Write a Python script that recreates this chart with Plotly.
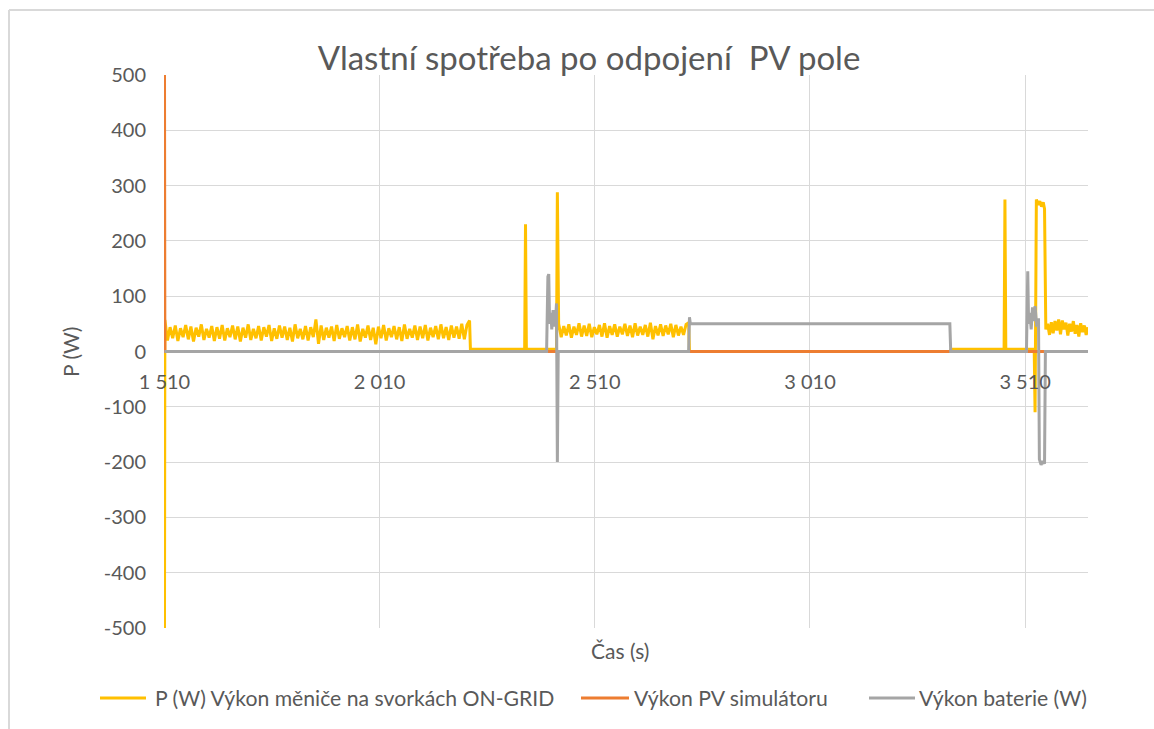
import numpy as np
import plotly.graph_objects as go

# ---------------- data ----------------
# inverter power P (W) on ON-GRID terminals, noisy segments
ongrid_a = [57, 20, 44, 24, 47, 19, 42, 26, 48, 22, 45, 18, 43, 27, 49, 21, 41, 25, 46, 19,
            44, 23, 48, 20, 42, 26, 47, 22, 45, 18, 43, 25, 49, 21, 41, 24, 46, 20, 44, 27,
            48, 19, 42, 23, 47, 25, 45, 21, 43, 18, 49, 24, 41, 22, 46, 20, 44, 26, 58, 14,
            47, 21, 43, 25, 45, 19, 48, 23, 42, 26, 46, 20, 44, 22, 49, 18, 41, 25, 47, 21,
            43, 13, 45, 24, 48, 20, 42, 26, 46, 22, 44, 19, 49, 23, 41, 25, 47, 21, 45, 24,
            48, 20, 43, 26, 46, 22, 49, 24, 44, 21, 47, 25, 45, 23, 50, 22, 48, 56]
ongrid_b = [50, 26, 46, 29, 49, 25, 45, 30, 51, 27, 47, 28, 50, 26, 44, 31, 48, 27, 51, 25,
            46, 30, 49, 27, 45, 31, 50, 28, 47, 26, 51, 29, 45, 30, 48, 27, 52, 22, 46, 29,
            49, 28, 47, 31, 50, 26, 48, 29, 45, 30, 49, 52]
ongrid_c = [40, 50, 30, 53, 33, 55, 38, 58, 31, 56, 40, 52, 29, 50, 36, 55, 32, 48, 27, 51,
            35, 47, 30, 44]
seg_a_time = (1511, 2219)
seg_b_time = (2426, 2728)
seg_c_time = (3558, 3656)

# discrete events of the ON-GRID series (time, value)
ev_start_t = [1510]
ev_start_p = [-600]
ev_mid_t = [2221, 2347, 2349, 2351, 2421, 2423]
ev_mid_p = [4, 4, 230, 4, 4, 288]
ev_late_t = [2730, 3336, 3338, 3461, 3463, 3465, 3531, 3533, 3536, 3540, 3544, 3548, 3552, 3555]
ev_late_p = [0, 0, 4, 4, 275, 4, 4, -110, 275, 265, 272, 262, 270, 258]

# PV simulator power
pv_t = [1510, 1511, 3656]
pv_p = [600, 0, 0]

# battery power
bat_t = [1510, 2398, 2401, 2403, 2405, 2408, 2410, 2413, 2416, 2419,
         2421, 2423, 2425, 2728, 2730, 2732, 3335, 3337, 3513, 3516,
         3518, 3521, 3524, 3527, 3530, 3533, 3537, 3541, 3543, 3547,
         3551, 3555, 3557, 3656]
bat_p = [0, 0, 135, 140, 50, 70, 40, 75, 45, 60,
         87, -200, 0, 0, 62, 50, 50, 0, 0, 145,
         50, 70, 40, 80, 55, 82, 45, 60, -195, -205,
         -198, -203, 0, 0]

x_tickvals = [1510, 2010, 2510, 3010, 3510]
x_ticktext = ["1 510", "2 010", "2 510", "3 010", "3 510"]
y_tickvals = [-500, -400, -300, -200, -100, 0, 100, 200, 300, 400, 500]
y_ticktext = ["-500", "-400", "-300", "-200", "-100", "0", "100", "200", "300", "400", "500"]

names = ["P (W) Výkon měniče na svorkách ON-GRID", "Výkon PV simulátoru", "Výkon baterie (W)"]
colors = ["#FFC000", "#ED7D31", "#A5A5A5"]

# ---------------- assemble ----------------
on_t = (ev_start_t
        + list(np.linspace(*seg_a_time, len(ongrid_a)))
        + ev_mid_t
        + list(np.linspace(*seg_b_time, len(ongrid_b)))
        + ev_late_t
        + list(np.linspace(*seg_c_time, len(ongrid_c))))
on_p = ev_start_p + ongrid_a + ev_mid_p + ongrid_b + ev_late_p + ongrid_c

FONT = "Lato"
TXT = "#595959"
GRID = "#D9D9D9"

fig = go.Figure()
for t, p, n, c in [(on_t, on_p, names[0], colors[0]),
                   (pv_t, pv_p, names[1], colors[1]),
                   (bat_t, bat_p, names[2], colors[2])]:
    fig.add_trace(go.Scatter(x=t, y=p, name=n, mode="lines", showlegend=False,
                             line=dict(color=c, width=3), hoverinfo="skip"))

L, R, T, B = 164, 66, 75, 101
W, H = 1154, 729
pw, ph = W - L - R, H - T - B


def px_x(px):
    return (px - L) / pw


def px_y(py):
    return (H - B - py) / ph


# legend drawn as line samples + text (Excel style long samples)
leg_line_x = [(100, 146), (581, 629), (869, 915)]
leg_text_x = [153, 632, 917]
leg_y = 698
legend_shapes = []
legend_annots = []
for (x0, x1), tx, n, c in zip(leg_line_x, leg_text_x, names, colors):
    legend_shapes.append(dict(type="line", xref="paper", yref="paper",
                              x0=px_x(x0), x1=px_x(x1), y0=px_y(leg_y), y1=px_y(leg_y),
                              line=dict(color=c, width=3)))
    legend_annots.append(dict(text=n, x=px_x(tx), y=px_y(leg_y), xref="paper", yref="paper",
                              xanchor="left", yanchor="middle", showarrow=False,
                              font=dict(size=21.2, color=TXT, family=FONT)))

fig.update_layout(
    width=W, height=H,
    margin=dict(l=L, r=R, t=T, b=B, autoexpand=False),
    paper_bgcolor="white", plot_bgcolor="white",
    font=dict(family=FONT, color=TXT, size=20),
    title=dict(text="Vlastní spotřeba po odpojení  PV pole", x=589 / W, xanchor="center",
               y=1 - 58 / H, yanchor="middle",
               font=dict(family=FONT, size=33, color=TXT)),
    showlegend=False,
    xaxis=dict(range=[1509, 3656], tickvals=x_tickvals, ticktext=x_ticktext,
               showgrid=True, gridcolor=GRID, gridwidth=1, zeroline=False,
               anchor="free", position=0.5, showline=False, ticks="",
               ticklabelstandoff=16, tickfont=dict(size=20, color=TXT)),
    yaxis=dict(range=[-500, 500], tickvals=y_tickvals, ticktext=y_ticktext,
               showgrid=True, gridcolor=GRID, gridwidth=1, zeroline=False,
               showline=False, ticks="", ticklabelstandoff=17,
               tickfont=dict(size=20, color=TXT)),
    annotations=[
        dict(text="P (W)", x=px_x(70), y=px_y(352), xref="paper", yref="paper",
             xanchor="center", yanchor="middle",
             textangle=-90, showarrow=False, font=dict(size=21, color=TXT)),
        dict(text="Čas (s)", x=px_x(620), y=px_y(650), xref="paper", yref="paper",
             xanchor="center", yanchor="middle",
             showarrow=False, font=dict(size=21, color=TXT)),
    ] + legend_annots,
    shapes=[
        dict(type="line", xref="paper", yref="paper", x0=px_x(9), x1=px_x(1154),
             y0=px_y(10), y1=px_y(10), line=dict(color=GRID, width=2)),
        dict(type="line", xref="paper", yref="paper", x0=px_x(9), x1=px_x(9),
             y0=px_y(10), y1=px_y(729), line=dict(color=GRID, width=2)),
    ] + legend_shapes,
)

fig.write_html("out.html", config={"displayModeBar": False},
               post_script="document.body.style.margin='0';document.body.style.overflow='hidden';")
